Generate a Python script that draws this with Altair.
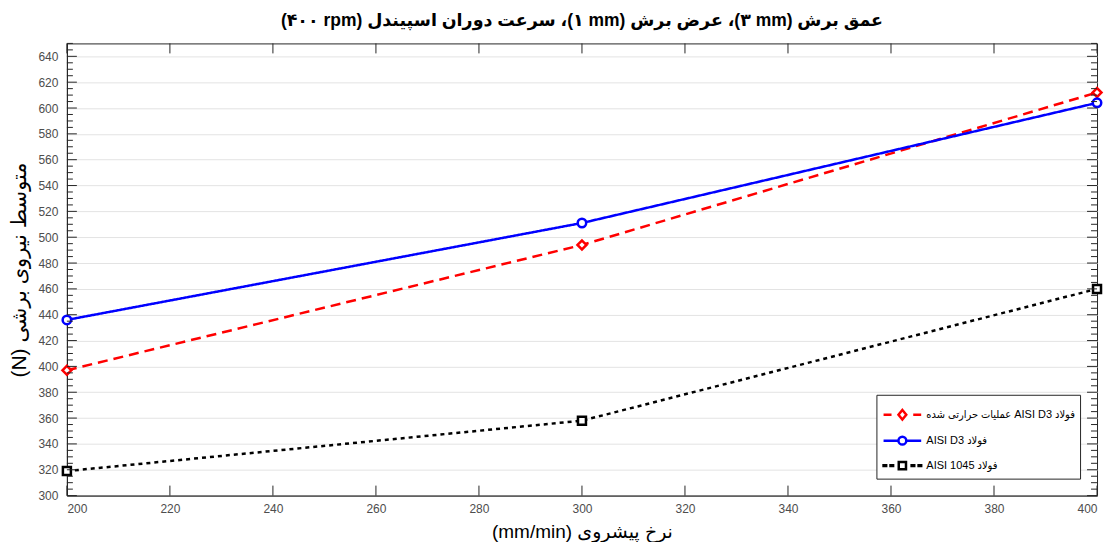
import altair as alt
import pandas as pd

feed = [200, 300, 400]
red_vals = [397, 494, 612]
blue_vals = [436, 511, 604]
black_vals = [319, 358, 460]

RLE, PDF, LRM = "\u202b", "\u202c", "\u200e"
series_names = [
    RLE + "فولاد AISI D3 عملیات حرارتی شده" + PDF,
    RLE + "فولاد AISI D3" + PDF,
    RLE + "فولاد AISI 1045" + PDF,
]
colors = ["#ff0000", "#0000ff", "#000000"]
dashes = [[10, 6], [1, 0], [4, 4]]
shapes = ["diamond", "circle", "square"]
widths = [2.5, 2.5, 4.5]
marker_sizes = [80, 64, 64]

# legend glyphs: line segment with the marker in the middle (unit coordinates)
legend_shapes = [
    "M-1.3,0L-0.75,0M0,-0.33L0.27,0L0,0.33L-0.27,0ZM0.75,0L1.3,0",
    "M-1.3,0L-0.27,0M0.27,0L1.3,0M-0.27,0A0.27,0.27 0 1,0 0.27,0A0.27,0.27 0 1,0 -0.27,0Z",
    "M-1.3,-0.03L-1.12,-0.03L-1.12,0.03L-1.3,0.03Z"
    "M-0.82,-0.03L-0.64,-0.03L-0.64,0.03L-0.82,0.03Z"
    "M-0.25,-0.25L0.25,-0.25L0.25,0.25L-0.25,0.25Z"
    "M0.64,-0.03L0.82,-0.03L0.82,0.03L0.64,0.03Z"
    "M1.12,-0.03L1.3,-0.03L1.3,0.03L1.12,0.03Z",
]

title_text = RLE + "عمق برش (" + LRM + "۳ mm)، عرض برش (" + LRM + "۱ mm)، سرعت دوران اسپیندل (" + LRM + "۴۰۰ rpm)" + PDF
x_title = RLE + "نرخ پیشروی (mm/min)" + PDF
y_title = RLE + "متوسط نیروی برشی (N)" + PDF

y_major = list(range(300, 641, 20))
y_minor = [v for v in range(300, 651, 5) if v % 20 != 0]
x_major = list(range(200, 401, 20))

rows = []
for name, vals in zip(series_names, [red_vals, blue_vals, black_vals]):
    for f, v in zip(feed, vals):
        rows.append({"feed": f, "force": v, "series": name})
df = pd.DataFrame(rows)

W, H = 1032, 453
FONT = "Liberation Sans, DejaVu Sans"
LEG_FONT = "Liberation Sans, DejaVu Sans Condensed"

xs = alt.Scale(domain=[200, 400], nice=False)
ys = alt.Scale(domain=[300, 650], nice=False)

x_axis = alt.Axis(values=x_major, title=x_title, grid=False, tickSize=0,
                  labelPadding=8, titleFontSize=19, titleFontWeight="normal",
                  titlePadding=8, labelOverlap=False)
y_axis = alt.Axis(values=y_major, title=y_title, grid=True, tickSize=0,
                  labelPadding=9, titleFontSize=21, titleFontWeight="normal",
                  titlePadding=8, labelOverlap=False)

def X(field):
    return alt.X(field, scale=xs, axis=x_axis)

def Y(field):
    return alt.Y(field, scale=ys, axis=y_axis)

def sc(rng):
    return alt.Scale(domain=series_names, range=rng)

base = alt.Chart(df)

lines = base.mark_line().encode(
    x=X("feed:Q"), y=Y("force:Q"),
    color=alt.Color("series:N", sort=series_names, scale=sc(colors), legend=None),
    strokeDash=alt.StrokeDash("series:N", sort=series_names, scale=sc(dashes), legend=None),
    strokeWidth=alt.StrokeWidth("series:N", sort=series_names, scale=sc(widths), legend=None),
)

points = base.mark_point(filled=False, fill="white", fillOpacity=1, strokeWidth=2.5).encode(
    x=X("feed:Q"), y=Y("force:Q"),
    color=alt.Color("series:N", sort=series_names, scale=sc(colors), legend=None),
    shape=alt.Shape("series:N", sort=series_names, scale=sc(shapes), legend=None),
    size=alt.Size("series:N", sort=series_names, scale=sc(marker_sizes), legend=None),
)

leg = alt.Legend(title=None, orient="bottom-right", offset=17,
                 labelFont=LEG_FONT, labelFontSize=11, labelColor="#000000",
                 strokeColor="#262626", fillColor="#ffffff",
                 padding=4, rowPadding=0, symbolSize=841, symbolOffset=6,
                 symbolStrokeWidth=2.5, symbolOpacity=1, symbolFillColor="#ffffff",
                 labelOffset=8, labelLimit=300)

legend_layer = base.transform_filter("false").mark_point(filled=False).encode(
    x=X("feed:Q"), y=Y("force:Q"),
    color=alt.Color("series:N", sort=series_names, scale=sc(colors), legend=leg),
    shape=alt.Shape("series:N", sort=series_names, scale=sc(legend_shapes), legend=leg),
)

tick_color = "#262626"
ymaj = pd.DataFrame({"v": y_major})
ymin = pd.DataFrame({"v": y_minor})
xmaj = pd.DataFrame({"v": x_major})

def yticks(d, length):
    left = alt.Chart(d).mark_rule(color=tick_color, strokeWidth=1).encode(
        y=Y("v:Q"), x=alt.value(0), x2=alt.value(length))
    right = alt.Chart(d).mark_rule(color=tick_color, strokeWidth=1).encode(
        y=Y("v:Q"), x=alt.value(W - length), x2=alt.value(W))
    return left + right

def xticks(d, length):
    bottom = alt.Chart(d).mark_rule(color=tick_color, strokeWidth=1).encode(
        x=X("v:Q"), y=alt.value(H), y2=alt.value(H - length))
    top = alt.Chart(d).mark_rule(color=tick_color, strokeWidth=1).encode(
        x=X("v:Q"), y=alt.value(0), y2=alt.value(length))
    return bottom + top

chart = alt.layer(
    lines, points, legend_layer,
    yticks(ymaj, 10), yticks(ymin, 6), xticks(xmaj, 10),
).resolve_scale(color="independent", shape="independent", size="independent").properties(
    width=W, height=H,
    padding={"left": 0, "right": 0, "top": 4, "bottom": 0},
    title=alt.TitleParams(title_text, font=FONT, fontSize=17.5, fontWeight="bold",
                          color="#000000", offset=13),
).configure_axis(
    labelFont=FONT, labelFontSize=12, labelColor="#4d4d4d",
    titleFont=FONT, titleColor="#000000",
    domainColor=tick_color, gridColor="#e3e3e3", gridWidth=1,
).configure_view(stroke=tick_color, strokeWidth=1)

chart.save("out.html", embed_options={"renderer": "svg", "actions": False})
